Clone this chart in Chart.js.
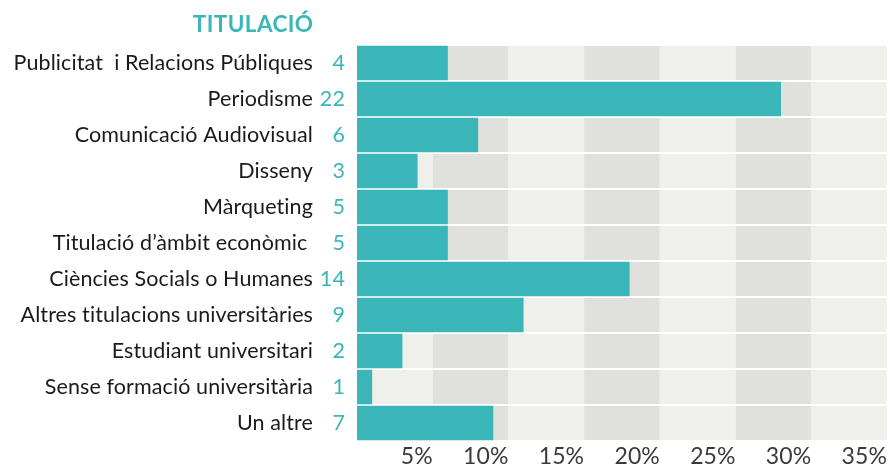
<!DOCTYPE html>
<html>
<head>
<meta charset="utf-8">
<script src="https://cdn.jsdelivr.net/npm/chart.js@4.4.0/dist/chart.umd.min.js"></script>
<style>
  body { margin: 0; background: #fff; }
  #wrap { width: 888px; height: 467px; position: relative; }
</style>
</head>
<body>
<div id="wrap"><canvas id="titulacioChart"></canvas></div>
<script>
// Data
const categories = [
  'Publicitat  i Relacions Públiques',
  'Periodisme',
  'Comunicació Audiovisual',
  'Disseny',
  'Màrqueting',
  'Titulació d’àmbit econòmic ',
  'Ciències Socials o Humanes',
  'Altres titulacions universitàries',
  'Estudiant universitari',
  'Sense formació universitària',
  'Un altre'
];
const counts = [4, 22, 6, 3, 5, 5, 14, 9, 2, 1, 7];
const percents = [6, 28, 8, 4, 6, 6, 18, 11, 3, 1, 9];
const xTicks = [0, 5, 10, 15, 20, 25, 30, 35];

const TEAL = '#3ab6b9';
const FONT = 'Lato';

// tiny letter spacing so Lato doesn't draw the "ti" ligature
const noLigatures = {
  id: 'noLigatures',
  beforeDraw(chart) {
    chart.ctx.letterSpacing = '0.1px';
  }
};

// Striped background per row and per 5% column
const bands = {
  id: 'bands',
  beforeDatasetsDraw(chart) {
    const {ctx, scales: {x, y}} = chart;
    const half = (y.getPixelForValue(1) - y.getPixelForValue(0)) / 2 - 1;
    ctx.save();
    categories.forEach((c, i) => {
      const yc = y.getPixelForValue(i);
      for (let k = 0; k < xTicks.length; k++) {
        const x0 = x.getPixelForValue(xTicks[k]);
        const x1 = k + 1 < xTicks.length ? x.getPixelForValue(xTicks[k + 1]) : chart.chartArea.right;
        ctx.fillStyle = k % 2 === 0 ? '#efefeb' : '#e0e0dc';
        ctx.fillRect(x0, yc - half, x1 - x0, half * 2);
      }
    });
    ctx.restore();
  }
};

// Counts next to the labels, plus the title
const extras = {
  id: 'extras',
  afterDraw(chart) {
    const {ctx, scales: {y}} = chart;
    ctx.save();
    ctx.font = '21.5px ' + FONT;
    ctx.fillStyle = TEAL;
    ctx.textAlign = 'right';
    ctx.textBaseline = 'middle';
    counts.forEach((n, i) => {
      ctx.fillText(String(n), 345, y.getPixelForValue(i));
    });
    ctx.font = 'bold 22.5px ' + FONT;
    ctx.letterSpacing = '0.4px';
    ctx.textBaseline = 'alphabetic';
    ctx.fillText('TITULACIÓ', 313.4, 32);
    ctx.restore();
  }
};

const ctx = document.getElementById('titulacioChart').getContext('2d');
const chart = new Chart(ctx, {
  type: 'bar',
  data: {
    labels: categories,
    datasets: [{
      data: percents,
      backgroundColor: TEAL,
      borderWidth: 0,
      barPercentage: 0.96,
      categoryPercentage: 1
    }]
  },
  options: {
    indexAxis: 'y',
    responsive: true,
    maintainAspectRatio: false,
    animation: false,
    layout: { padding: { top: 45, right: 1, left: 0, bottom: 0 } },
    plugins: {
      legend: { display: false },
      tooltip: { enabled: false }
    },
    scales: {
      x: {
        min: 0,
        max: 35,
        grid: { display: false, drawTicks: false },
        border: { display: false },
        afterFit(scale) {
          scale.height = 26;
          scale.paddingLeft = 0;
          scale.paddingRight = 0;
        },
        afterBuildTicks(scale) { scale.ticks = xTicks.map(v => ({value: v})); },
        ticks: {
          align: 'end',
          padding: 2,
          color: '#3a3a3a',
          font: { family: FONT, size: 23 },
          callback: v => (v === 0 ? '' : v + '%')
        }
      },
      y: {
        grid: { display: false, drawTicks: false },
        border: { display: false },
        afterFit(scale) {
          scale.width = 357;
          scale.paddingTop = 0;
          scale.paddingBottom = 0;
        },
        ticks: {
          autoSkip: false,
          padding: 44,
          color: '#1a1a1a',
          font: { family: FONT, size: 21.5 }
        }
      }
    }
  },
  plugins: [noLigatures, bands, extras]
});
</script>
</body>
</html>
